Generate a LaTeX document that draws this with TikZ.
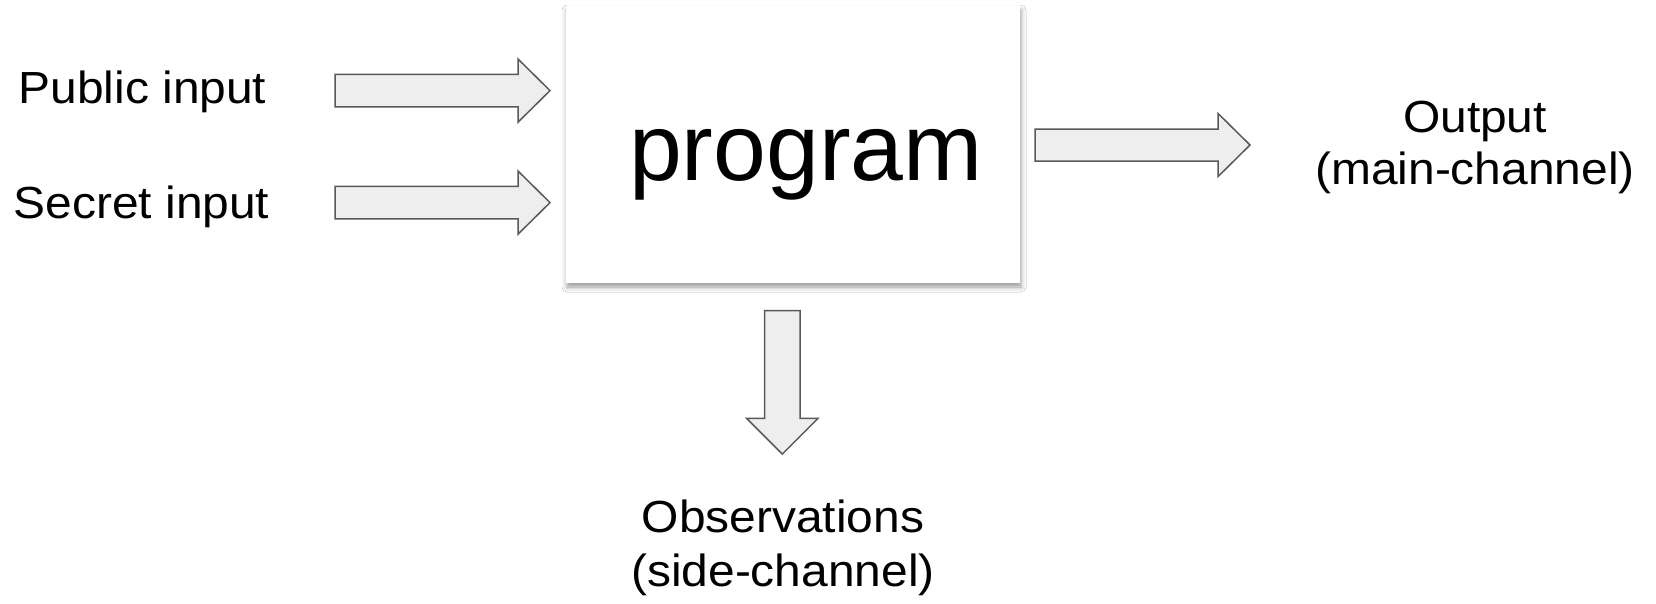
\documentclass[tikz,border=0pt]{standalone}
\usepackage{fontspec}
\setmainfont{Liberation Sans}[FakeStretch=1.065]
\newfontfamily\progfont{Liberation Sans}
\usetikzlibrary{shadows.blur}
\definecolor{arrowfill}{HTML}{EEEEEE}
\definecolor{arrowline}{HTML}{595959}
\begin{document}
\begin{tikzpicture}[x=1pt,y=-1pt,
  blockarrow/.style={fill=arrowfill, draw=arrowline, line width=1.5pt, line join=miter},
  lbl/.style={inner sep=0pt, font=\fontsize{45}{51.3}\selectfont, align=center},
  progbox/.style={fill=white, draw=none, inner sep=0pt, minimum width=454pt, minimum height=277pt,
    blur shadow={shadow xshift=1pt, shadow yshift=-4pt, shadow blur radius=5pt, shadow opacity=40},
    font=\progfont\fontsize{95}{110}\selectfont, text height=91pt, text depth=20pt}]
\useasboundingbox[fill=white] (0,0) rectangle (1656,603);

\node[progbox] (prog) at (793,144.5) {\hspace*{26pt}program};

\node[lbl, anchor=base] (pub) at (142.5,103.3) {Public input};
\node[lbl, anchor=base] (sec) at (141.5,218.3) {Secret input};
\node[lbl] (out) at (1475,147.5) {Output\\(main-channel)};
\node[lbl, font=\fontsize{45}{54}\selectfont] (obs) at (783,548) {Observations\\(side-channel)};

% public input arrow
\draw[blockarrow] (335,74.4) -- (518,74.4) -- (518,59) -- (550,90.6) -- (518,122.2) -- (518,106.8) -- (335,106.8) -- cycle;
% secret input arrow
\draw[blockarrow] (335,186.4) -- (518,186.4) -- (518,171) -- (550,202.6) -- (518,234.2) -- (518,218.8) -- (335,218.8) -- cycle;
% output arrow
\draw[blockarrow] (1035,129) -- (1218,129) -- (1218,113.4) -- (1250,145) -- (1218,176.6) -- (1218,161) -- (1035,161) -- cycle;
% observations arrow
\draw[blockarrow] (764.5,310.7) -- (800.1,310.7) -- (800.1,418.3) -- (818,418.3) -- (782.3,454) -- (746.6,418.3) -- (764.5,418.3) -- cycle;
\end{tikzpicture}
\end{document}
